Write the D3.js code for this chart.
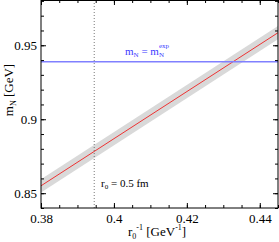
<!DOCTYPE html>
<html>
<head>
<meta charset="utf-8">
<script src="https://cdn.jsdelivr.net/npm/d3@7"></script>
<style>
  body { margin: 0; background: #fff; }
  svg { display: block; font-family: "Liberation Serif", "Times New Roman", serif; }
  svg text { font-family: "Liberation Serif", "Times New Roman", serif; }
</style>
</head>
<body>
<svg width="279" height="242"></svg>
<script>
var svg = d3.select('svg');

// fit line m_N(r0^-1) with error band
var fitX = [0.38, 0.445];
var fitY = [0.855, 0.9585];
var fitErr = [0.0045, 0.0045];
var mExp = 0.9389;
var rInv = 0.3946; // r0 = 0.5 fm
var xTicks = [0.38, 0.4, 0.42, 0.44];
var yTicks = [0.85, 0.9, 0.95];

var pLeft = 41, pRight = 278, pTop = 0, pBottom = 208;

var x = d3.scaleLinear().domain([0.38, 0.445]).range([pLeft, pRight]);
var y = d3.scaleLinear().domain([0.84, 0.9806]).range([pBottom, pTop]);

var fit = fitX.map(function(d, i) { return { x: d, y: fitY[i], e: fitErr[i] }; });

var area = d3.area()
  .x(function(d) { return x(d.x); })
  .y0(function(d) { return y(d.y - d.e); })
  .y1(function(d) { return y(d.y + d.e); });

svg.append('clipPath').attr('id', 'clip')
  .append('rect').attr('x', pLeft).attr('y', pTop).attr('width', pRight - pLeft).attr('height', pBottom - pTop);

var plot = svg.append('g').attr('clip-path', 'url(#clip)');

plot.append('path').datum(fit)
  .attr('d', area)
  .attr('fill', '#d9d9d9');

plot.append('path').datum(fit)
  .attr('d', d3.line().x(function(d) { return x(d.x); }).y(function(d) { return y(d.y); }))
  .attr('fill', 'none')
  .attr('stroke', '#ee3333')
  .attr('stroke-width', 1);

plot.append('line')
  .attr('x1', pLeft).attr('x2', pRight)
  .attr('y1', y(mExp)).attr('y2', y(mExp))
  .attr('stroke', '#8080ff')
  .attr('stroke-width', 1.5);

plot.append('line')
  .attr('x1', x(rInv)).attr('x2', x(rInv))
  .attr('y1', pTop).attr('y2', pBottom)
  .attr('stroke', '#555')
  .attr('stroke-width', 0.8)
  .attr('stroke-dasharray', '1,2');

// axes, ticks inward on all four sides
function styleAxis(g) {
  g.attr('font-family', '"Liberation Serif", serif');
  g.select('.domain').remove();
  g.selectAll('line').attr('stroke', '#000');
  g.selectAll('text').attr('font-size', 13).attr('fill', '#000');
}
var xMinor = d3.range(0.38, 0.4451, 0.005);
var yMinor = d3.range(0.84, 0.981, 0.01);

svg.append('g').attr('transform', 'translate(0,' + pBottom + ')')
  .call(d3.axisBottom(x).tickValues(xMinor).tickSize(-3).tickFormat(''))
  .call(styleAxis);
svg.append('g').attr('transform', 'translate(0,' + pBottom + ')')
  .call(d3.axisBottom(x).tickValues(xTicks).tickSize(-5).tickPadding(6).tickFormat(d3.format('')))
  .call(styleAxis);
svg.append('g').attr('transform', 'translate(0,' + pTop + ')')
  .call(d3.axisTop(x).tickValues(xMinor).tickSize(-3).tickFormat(''))
  .call(styleAxis);
svg.append('g').attr('transform', 'translate(0,' + pTop + ')')
  .call(d3.axisTop(x).tickValues(xTicks).tickSize(-5).tickFormat(''))
  .call(styleAxis);

svg.append('g').attr('transform', 'translate(' + pLeft + ',0)')
  .call(d3.axisLeft(y).tickValues(yMinor).tickSize(-3).tickFormat(''))
  .call(styleAxis);
svg.append('g').attr('transform', 'translate(' + pLeft + ',0)')
  .call(d3.axisLeft(y).tickValues(yTicks).tickSize(-5).tickPadding(4).tickFormat(d3.format('')))
  .call(styleAxis);
svg.append('g').attr('transform', 'translate(' + pRight + ',0)')
  .call(d3.axisRight(y).tickValues(yMinor).tickSize(-3).tickFormat(''))
  .call(styleAxis);
svg.append('g').attr('transform', 'translate(' + pRight + ',0)')
  .call(d3.axisRight(y).tickValues(yTicks).tickSize(-5).tickFormat(''))
  .call(styleAxis);

svg.append('rect')
  .attr('x', pLeft).attr('y', pTop + 0.5)
  .attr('width', pRight - pLeft).attr('height', pBottom - pTop - 0.5)
  .attr('fill', 'none').attr('stroke', '#000').attr('stroke-width', 1);

// labels
var lab = svg.append('text')
  .attr('x', 125).attr('y', 55)
  .attr('font-size', 11).attr('fill', '#3a3aff');
lab.append('tspan').text('m');
lab.append('tspan').attr('font-size', 7).attr('dy', 2).text('N');
lab.append('tspan').attr('dy', -2).text(' = m');
lab.append('tspan').attr('font-size', 7).attr('dy', 2).text('N');
lab.append('tspan').attr('font-size', 7).attr('dy', -9).attr('dx', -5).text('exp');

var r0 = svg.append('text')
  .attr('x', 101).attr('y', 187)
  .attr('font-size', 11).attr('fill', '#000');
r0.append('tspan').text('r');
r0.append('tspan').attr('font-size', 7).attr('dy', 2).text('0');
r0.append('tspan').attr('dy', -2).text(' = 0.5 fm');

var xl = svg.append('text')
  .attr('x', 128).attr('y', 236)
  .attr('font-size', 13).attr('fill', '#000');
xl.append('tspan').text('r');
xl.append('tspan').attr('font-size', 8).attr('dy', 3).text('0');
xl.append('tspan').attr('font-size', 8).attr('dy', -9).text('-1');
xl.append('tspan').attr('dy', 6).text(' [GeV');
xl.append('tspan').attr('font-size', 8).attr('dy', -6).text('-1');
xl.append('tspan').attr('dy', 6).text(']');

var yl = svg.append('text')
  .attr('transform', 'translate(13,90) rotate(-90)')
  .attr('text-anchor', 'middle')
  .attr('font-size', 13).attr('fill', '#000');
yl.append('tspan').text('m');
yl.append('tspan').attr('font-size', 8).attr('dy', 3).text('N');
yl.append('tspan').attr('dy', -3).text(' [GeV]');
</script>
</body>
</html>
